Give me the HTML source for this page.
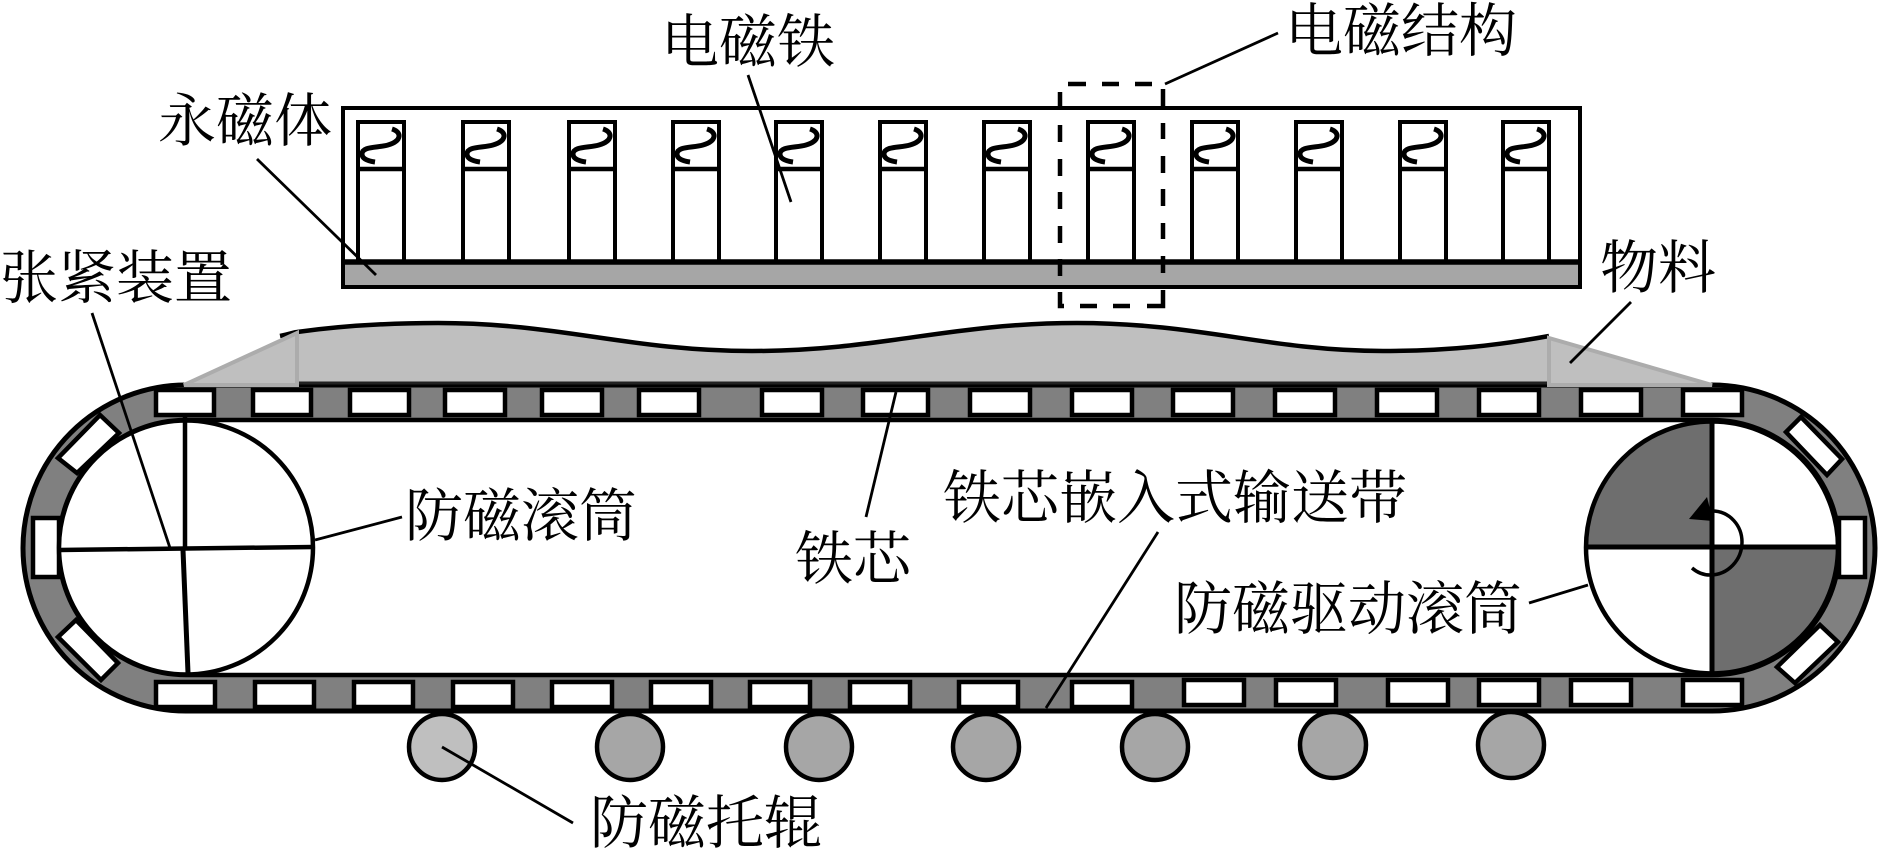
<!DOCTYPE html>
<html lang="zh">
<head>
<meta charset="utf-8">
<title>Diagram</title>
<style>
html,body{margin:0;padding:0;background:#fff;width:1878px;height:850px;overflow:hidden}
svg{display:block}
text{font-family:"Liberation Serif","Noto Serif CJK SC","Noto Sans CJK SC",serif;font-size:58px;fill:#000}
</style>
</head>
<body>
<svg width="1878" height="850" viewBox="0 0 1878 850" xmlns="http://www.w3.org/2000/svg">
<defs>
<g id="em" fill="none" stroke="#000" stroke-width="4">
<path d="M0,140 V0 H46 V140"/>
<path d="M0,47 H46" stroke-width="4.5"/>
<path d="M34,7 C44,10 44,19 30,23 C20,26 4,24 4,32 C4,37 10,39 17,40" stroke-width="5"/>
</g>
</defs>

<!-- top magnet assembly -->
<rect x="343" y="262" width="1237" height="25" fill="#a6a6a6"/>
<rect x="343" y="108" width="1237" height="179" fill="none" stroke="#000" stroke-width="4"/>
<use href="#em" x="358" y="122"/>
<use href="#em" x="463" y="122"/>
<use href="#em" x="569" y="122"/>
<use href="#em" x="673" y="122"/>
<use href="#em" x="776" y="122"/>
<use href="#em" x="880" y="122"/>
<use href="#em" x="984" y="122"/>
<use href="#em" x="1088" y="122"/>
<use href="#em" x="1192" y="122"/>
<use href="#em" x="1296" y="122"/>
<use href="#em" x="1400" y="122"/>
<use href="#em" x="1503" y="122"/>
<line x1="343" y1="262" x2="1580" y2="262" stroke="#000" stroke-width="5.5"/>

<!-- dashed box -->
<path fill="none" stroke="#000" stroke-width="4.5" d="M1060,92V106 M1060,125V142 M1060,159V176 M1060,192V209 M1060,226V243 M1060,259V276 M1060,292V306H1064 M1080,306H1097 M1113,306H1130 M1147,306H1163V290 M1163,273V256 M1163,239V223 M1163,206V189 M1163,173V156 M1163,139V123 M1163,106V89 M1068,84H1086 M1102,84H1119 M1135,84H1152"/>

<!-- belt -->
<path fill="#808080" stroke="#000" stroke-width="5" d="M186,385 H1712 A163,163 0 0 1 1712,711 H186 A163,163 0 0 1 186,385 Z"/>
<path fill="#fff" stroke="#000" stroke-width="4.5" d="M186,420 H1712 A127.500,127.500 0 0 1 1712,675 H186 A127.500,127.500 0 0 1 186,420 Z"/>

<!-- belt blocks -->
<g fill="#fff" stroke="#000" stroke-width="4.5">
<rect x="156" y="390" width="58" height="25"/>
<rect x="253" y="390" width="58" height="25"/>
<rect x="350" y="390" width="59" height="25"/>
<rect x="445" y="390" width="60" height="25"/>
<rect x="542" y="390" width="60" height="25"/>
<rect x="639" y="390" width="60" height="25"/>
<rect x="762" y="390" width="60" height="25"/>
<rect x="863" y="390" width="65" height="25"/>
<rect x="970" y="390" width="60" height="25"/>
<rect x="1072" y="390" width="60" height="25"/>
<rect x="1173" y="390" width="60" height="25"/>
<rect x="1275" y="390" width="60" height="25"/>
<rect x="1377" y="390" width="60" height="25"/>
<rect x="1479" y="390" width="60" height="25"/>
<rect x="1581" y="390" width="60" height="25"/>
<rect x="1683" y="390" width="59" height="25"/>

<rect x="156" y="682" width="59" height="25"/>
<rect x="255" y="682" width="59" height="25"/>
<rect x="354" y="682" width="59" height="25"/>
<rect x="453" y="682" width="60" height="25"/>
<rect x="552" y="682" width="60" height="25"/>
<rect x="651" y="682" width="60" height="25"/>
<rect x="750" y="682" width="60" height="25"/>
<rect x="850" y="682" width="60" height="25"/>
<rect x="959" y="682" width="59" height="25"/>
<rect x="1072" y="682" width="60" height="25"/>
<rect x="1184" y="680" width="60" height="25"/>
<rect x="1276" y="680" width="60" height="25"/>
<rect x="1388" y="680" width="60" height="25"/>
<rect x="1479" y="680" width="60" height="25"/>
<rect x="1571" y="680" width="60" height="25"/>
<rect x="1683" y="680" width="59" height="25"/>

<rect x="33" y="518" width="26" height="59"/>
<rect x="1839" y="518" width="26" height="59"/>
<polygon points="100,415 119,433 77,473 58,458"/>
<polygon points="58,637 76,620 118,663 101,680"/>
<polygon points="1801,417 1842,459 1827,475 1786,432"/>
<polygon points="1820,625 1838,642 1795,683 1777,667"/>
</g>

<!-- material -->
<path fill="#bfbfbf" d="M297,332 C340,326 390,323 438,323 C560,323 630,351 752,351 C880,351 950,323 1077,323 C1200,323 1270,351 1383,351 C1450,351 1500,345 1549,336 V383 H297 Z"/>
<line x1="297" y1="383" x2="1549" y2="383" stroke="#222" stroke-width="3"/>
<path fill="none" stroke="#000" stroke-width="4.500" d="M280,336 C290,334 295,332 297,332 C340,326 390,323 438,323 C560,323 630,351 752,351 C880,351 950,323 1077,323 C1200,323 1270,351 1383,351 C1450,351 1500,345 1549,336"/>
<polygon points="184,385 297,333 297,385" fill="#bfbfbf" stroke="#acacac" stroke-width="4"/>
<polygon points="1549,338 1712,385 1549,385" fill="#bfbfbf" stroke="#acacac" stroke-width="4"/>

<!-- left roller -->
<circle cx="186" cy="547.500" r="127" fill="#fff" stroke="#000" stroke-width="4.500"/>
<g stroke="#000" stroke-width="4.500" fill="none">
<line x1="59" y1="550" x2="313" y2="547"/>
<line x1="185" y1="417" x2="185" y2="548"/>
<line x1="183" y1="550" x2="188" y2="673" stroke-width="5"/>
</g>

<!-- right roller -->
<circle cx="1712" cy="547.500" r="126" fill="#fff"/>
<path d="M1712,547.500 H1586 A126,126 0 0 1 1712,421.500 Z" fill="#6e6e6e"/>
<path d="M1712,547.500 H1838 A126,126 0 0 1 1712,673.500 Z" fill="#6e6e6e"/>
<circle cx="1712" cy="547.500" r="126" fill="none" stroke="#000" stroke-width="4.500"/>
<line x1="1712" y1="418" x2="1712" y2="677" stroke="#000" stroke-width="5"/>
<line x1="1586" y1="547" x2="1838" y2="547" stroke="#000" stroke-width="5"/>
<path d="M1712,511 C1730,511 1742,526 1742,542 C1742,560 1728,575 1710,575 Q1700,575 1692,568" fill="none" stroke="#000" stroke-width="3.500"/>
<polygon points="1707,497 1689,519 1713,521" fill="#000"/>

<!-- support rollers -->
<g stroke="#000" stroke-width="4.500">
<circle cx="442" cy="747" r="33" fill="#bfbfbf"/>
<circle cx="630" cy="747" r="33" fill="#a6a6a6"/>
<circle cx="819" cy="747" r="33" fill="#a6a6a6"/>
<circle cx="986" cy="747" r="33" fill="#a6a6a6"/>
<circle cx="1155" cy="747" r="33" fill="#a6a6a6"/>
<circle cx="1333" cy="745" r="33" fill="#a6a6a6"/>
<circle cx="1511" cy="745" r="33" fill="#a6a6a6"/>
</g>

<!-- leader lines -->
<g stroke="#000" stroke-width="2.800" fill="none">
<line x1="748" y1="75" x2="791" y2="202"/>
<line x1="257" y1="159" x2="376" y2="275"/>
<line x1="92" y1="313" x2="170" y2="548"/>
<line x1="315" y1="540" x2="402" y2="517"/>
<line x1="1165" y1="84" x2="1278" y2="33"/>
<line x1="1631" y1="302" x2="1570" y2="363"/>
<line x1="896" y1="392" x2="866" y2="517"/>
<line x1="1158" y1="532" x2="1046" y2="708"/>
<line x1="1529" y1="603" x2="1588" y2="585"/>
<line x1="442" y1="747" x2="573" y2="823"/>
</g>

<!-- labels -->
<text x="661" y="62">电磁铁</text>
<text x="158" y="141">永磁体</text>
<text x="0" y="298">张紧装置</text>
<text x="1285" y="51">电磁结构</text>
<text x="1600" y="288">物料</text>
<text x="405" y="536">防磁滚筒</text>
<text x="795" y="579">铁芯</text>
<text x="943" y="518">铁芯嵌入式输送带</text>
<text x="1174" y="629">防磁驱动滚筒</text>
<text x="590" y="843">防磁托辊</text>
</svg>
</body>
</html>
